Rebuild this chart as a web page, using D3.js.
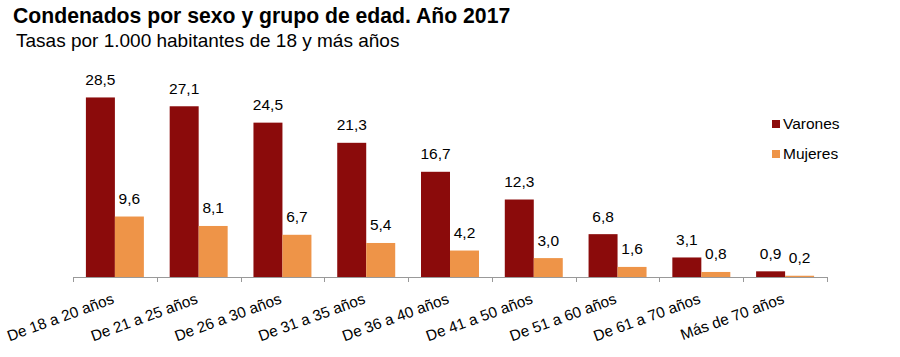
<!DOCTYPE html>
<html><head><meta charset="utf-8">
<script src="https://cdn.jsdelivr.net/npm/d3@7"></script>
<style>body{margin:0;background:#fff}svg{display:block;font-family:"Liberation Sans",Arial,sans-serif}</style>
</head><body><svg id="c" width="900" height="357"></svg>
<script>
const categories = ["De 18 a 20 años","De 21 a 25 años","De 26 a 30 años","De 31 a 35 años","De 36 a 40 años","De 41 a 50 años","De 51 a 60 años","De 61 a 70 años","Más de 70 años"];
const varones = [28.5,27.1,24.5,21.3,16.7,12.3,6.8,3.1,0.9];
const mujeres = [9.6,8.1,6.7,5.4,4.2,3.0,1.6,0.8,0.2];
const seriesNames = ["Varones","Mujeres"];
const colors = ["#8b0b0b","#ee9448"];

const svg = d3.select("#c");
const x0 = 73, x1 = 827, yBase = 277;
const x = d3.scaleBand().domain(categories).range([x0, x1]).paddingInner(0).paddingOuter(0);
const sub = d3.scaleBand().domain(seriesNames).range([0, x.bandwidth()]).paddingInner(0).paddingOuter(0.445);
const y = d3.scaleLinear().domain([0, 30]).range([yBase, yBase - 189]);
const fmt = v => d3.format(".1f")(v).replace(".", ",");

svg.append("text").attr("x", 13).attr("y", 22.5).attr("font-size", 21.2).attr("font-weight", "bold").attr("fill", "#000")
  .text("Condenados por sexo y grupo de edad. Año 2017");
svg.append("text").attr("x", 16).attr("y", 47).attr("font-size", 19).attr("fill", "#000")
  .text("Tasas por 1.000 habitantes de 18 y más años");

const data = [varones, mujeres];
const g = svg.append("g");
seriesNames.forEach((s, si) => {
  const gs = g.append("g");
  gs.selectAll("rect").data(categories).join("rect")
    .attr("x", c => x(c) + sub(s))
    .attr("width", sub.bandwidth())
    .attr("y", (c, i) => y(data[si][i]))
    .attr("height", (c, i) => yBase - y(data[si][i]))
    .attr("fill", colors[si]);
  gs.selectAll("text").data(categories).join("text")
    .attr("x", c => x(c) + sub(s) + sub.bandwidth() / 2)
    .attr("y", (c, i) => y(data[si][i]) - 12.5)
    .attr("text-anchor", "middle").attr("font-size", 15.5).attr("fill", "#000")
    .text((c, i) => fmt(data[si][i]));
});

// axis
const ax = svg.append("g").attr("transform", `translate(0,${yBase})`);
ax.append("line").attr("x1", x0).attr("x2", x1).attr("y1", 0.5).attr("y2", 0.5).attr("stroke", "#999");
const ticks = categories.map(c => x(c)).concat([x1]);
ax.selectAll("line.t").data(ticks).join("line").attr("class", "t")
  .attr("x1", d => Math.round(d) + 0.5).attr("x2", d => Math.round(d) + 0.5).attr("y1", 0).attr("y2", 5).attr("stroke", "#999");
ax.selectAll("text").data(categories).join("text")
  .attr("transform", c => `translate(${x(c) + x.bandwidth() / 2},${26}) rotate(-20)`)
  .attr("text-anchor", "end").attr("font-size", 15.3).attr("fill", "#000")
  .text(c => c);

// legend
const lg = svg.append("g");
seriesNames.forEach((s, i) => {
  lg.append("rect").attr("x", 772).attr("y", 120 + i * 30).attr("width", 8).attr("height", 8).attr("fill", colors[i]);
  lg.append("text").attr("x", 783).attr("y", 129 + i * 30).attr("font-size", 15.5).attr("fill", "#000").text(s);
});
</script></body></html>
